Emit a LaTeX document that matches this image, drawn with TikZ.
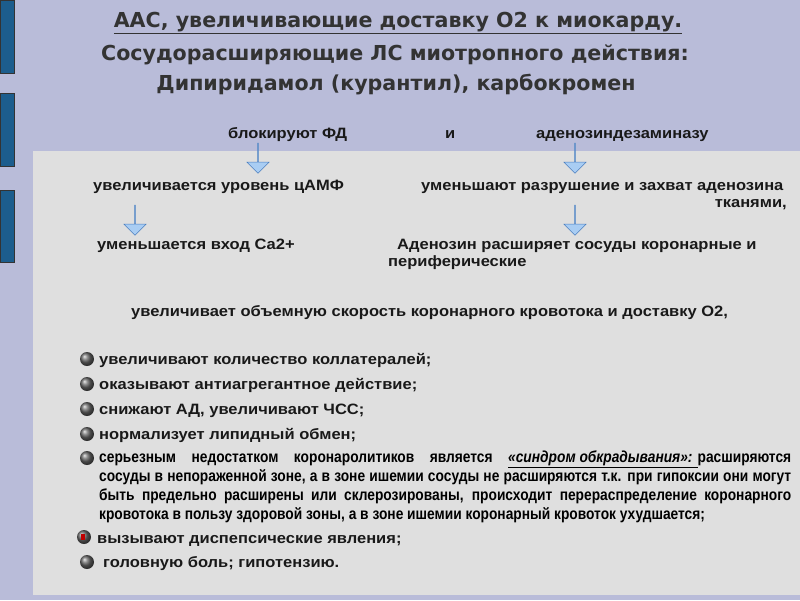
\documentclass[tikz,border=0pt]{standalone}
\usepackage{fontspec}
\setmainfont{Liberation Sans}[FakeStretch=1.1]
\newfontfamily\narrowfont[FakeStretch=0.86]{Liberation Sans}
\newfontfamily\titlefont{DejaVu Sans}
\usetikzlibrary{shapes.arrows}
\definecolor{bgl}{HTML}{B9BCD9}
\definecolor{panel}{HTML}{DFDFDF}
\definecolor{barc}{HTML}{1C5D8D}
\definecolor{titc}{HTML}{333333}
\definecolor{arrf}{HTML}{A9CDF3}
\definecolor{arrd}{HTML}{4A7FC0}
\tikzset{
  ttl/.style={font=\titlefont\fontsize{20.6}{24}\selectfont\bfseries, text=titc, inner sep=0, anchor=base},
  txt/.style={font=\fontsize{15}{17}\selectfont\bfseries, text=black!90, inner sep=0, anchor=base west},
  downarr/.style={single arrow, draw=arrd, fill=arrf, line width=0.5pt, shape border rotate=270,
     minimum height=30pt, minimum width=22pt, single arrow head extend=6pt, inner sep=0, single arrow head indent=0pt},
  bullet/.style={ball color=black!60, shading=ball},
}
\begin{document}
\begin{tikzpicture}[x=1pt,y=-1pt]
\fill[bgl] (0,0) rectangle (800,600);
\useasboundingbox (0,0) rectangle (800,600);
\fill[panel] (33,151) rectangle (800,595);
\foreach \a/\b in {0/73,93/166,190/262}{
  \filldraw[fill=barc, draw=black!80, line width=0.6pt] (0,\a) rectangle (14,\b);
}
% titles
\node[ttl] (t1) at (398,27) {\underline{ААС, увеличивающие доставку О2 к миокарду.}};
\node[ttl] (t2) at (395,60) {Сосудорасширяющие ЛС миотропного действия:};
\node[ttl] (t3) at (396,90) {Дипиридамол (курантил), карбокромен};
% flow
\node[txt] (fd) at (228,138) {блокируют ФД};
\node[txt] (i) at (445,138) {и};
\node[txt] (ada) at (536,138) {аденозиндезаминазу};
\node[txt] (camp) at (93,190) {увеличивается уровень цАМФ};
\node[txt] (razr) at (421,190) {уменьшают разрушение и захват аденозина};
\node[txt, anchor=base east] (tk) at (787,207) {тканями,};
\node[txt] (ca) at (97,249) {уменьшается вход Са2+};
\node[txt] (aden) at (397,249) {Аденозин расширяет сосуды коронарные и};
\node[txt] (peri) at (388,266) {периферические};
\node[txt] (uvel) at (131,316) {увеличивает объемную скорость коронарного кровотока и доставку О2,};
% arrows
\node[downarr] (a1) at (258,158) {};
\node[downarr] (a2) at (575,158) {};
\node[downarr] (a3) at (135,220) {};
\node[downarr] (a4) at (575,220) {};
% bullets
\foreach \y in {359,384,409,434,458,562}{
  \shade[bullet] (87,\y) circle (7);
}
\shade[bullet] (84,537) circle (7);
\fill[red!75!black] (81,534) rectangle (85,540);
\node[txt] (b1) at (99,364) {увеличивают количество коллатералей;};
\node[txt] (b2) at (99,389) {оказывают антиагрегантное действие;};
\node[txt] (b3) at (99,414) {снижают АД, увеличивают ЧСС;};
\node[txt] (b4) at (99,439) {нормализует липидный обмен;};
\node[anchor=north west, inner sep=0, text width=692pt, align=justify,
  font=\narrowfont\fontsize{16}{18.8}\selectfont\bfseries] (b5) at (99,451)
 {серьезным недостатком коронаролитиков является \underline{\textit{«синдром обкрадывания»: }}расширяются\linebreak
 сосуды в непораженной зоне, а в зоне ишемии сосуды не расширяются т.к. при гипоксии они могут\linebreak
 быть предельно расширены или склерозированы, происходит перераспределение коронарного\linebreak
 кровотока в пользу здоровой зоны, а в зоне ишемии коронарный кровоток ухудшается;};
\node[txt] (b6) at (97,543) {вызывают диспепсические явления;};
\node[txt] (b7) at (103,567) {головную боль; гипотензию.};
\end{tikzpicture}
\end{document}
